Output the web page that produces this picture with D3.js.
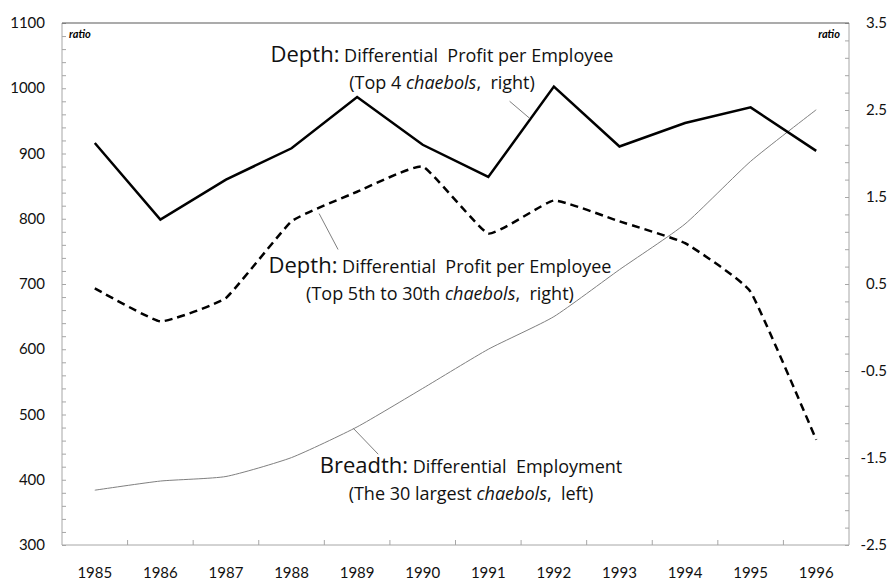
<!DOCTYPE html>
<html>
<head>
<meta charset="utf-8">
<script src="https://cdn.jsdelivr.net/npm/d3@7"></script>
<style>
  body { margin: 0; background: #fff; }
  svg { display: block; font-family: Lato, "Open Sans", sans-serif; }
  .tick-label { font-size: 15px; fill: #111; }
  .note { fill: #111; font-family: "Open Sans", sans-serif; white-space: pre; }
</style>
</head>
<body>
<div id="chart"></div>
<script>
const width = 894;
const height = 580;

// 年份 (x 轴类别)
const years = ["1985", "1986", "1987", "1988", "1989", "1990",
               "1991", "1992", "1993", "1994", "1995", "1996"];

// Breadth: differential employment, 30 largest chaebols (left axis)
const breadth = [384, 398, 405, 434, 481, 540, 600, 650, 722, 792, 888, 967];

// Depth: differential profit per employee, top 4 chaebols (right axis)
const depthTop4 = [2.12, 1.24, 1.70, 2.06, 2.65, 2.10, 1.73, 2.77, 2.08, 2.35, 2.53, 2.03];

// Depth: differential profit per employee, top 5th to 30th (right axis)
const depthTop5to30 = [0.45, 0.07, 0.34, 1.22, 1.56, 1.85, 1.08, 1.46, 1.22, 0.97, 0.41, -1.29];

// 轴刻度
const leftTicks = [300, 400, 500, 600, 700, 800, 900, 1000, 1100];
const rightTicks = [-2.5, -1.5, -0.5, 0.5, 1.5, 2.5, 3.5];

const margin = { top: 23, right: 45, bottom: 35, left: 62 };
const x0 = margin.left, x1 = width - margin.right;
const y0 = height - margin.bottom, y1 = margin.top;

const svg = d3.select("#chart").append("svg")
    .attr("width", width)
    .attr("height", height);

const x = d3.scaleBand().domain(years).range([x0, x1]);
const xc = d => x(d) + x.bandwidth() / 2;
// 小数索引 -> 像素 (用于标注引线)
const xi = i => x0 + (i + 0.5) * x.bandwidth();

const yL = d3.scaleLinear().domain([300, 1100]).range([y0, y1]);
const yR = d3.scaleLinear().domain([-2.5, 3.5]).range([y0, y1]);

// --- 坐标轴 ---
const axisColor = "#a6a6a6";

// 左轴
const left = svg.append("g").attr("transform", `translate(${x0},0)`)
    .call(d3.axisLeft(yL).tickValues(d3.range(300, 1101, 20)).tickSize(-4).tickFormat(""));
left.select(".domain").remove();
left.selectAll(".tick line").attr("stroke", axisColor);
svg.append("line").attr("x1", x0).attr("x2", x0).attr("y1", y1).attr("y2", y0)
    .attr("stroke", axisColor);

svg.append("g").selectAll("text").data(leftTicks).join("text")
    .attr("class", "tick-label")
    .attr("x", x0 - 17).attr("y", d => yL(d) + 5)
    .attr("text-anchor", "end")
    .text(d => d);

// 右轴
const right = svg.append("g").attr("transform", `translate(${x1},0)`)
    .call(d3.axisRight(yR).tickValues(d3.range(-25, 36, 2).map(v => v / 10)).tickSize(-4).tickFormat(""));
right.select(".domain").remove();
right.selectAll(".tick line").attr("stroke", axisColor);
svg.append("line").attr("x1", x1).attr("x2", x1).attr("y1", y1).attr("y2", y0)
    .attr("stroke", axisColor);

svg.append("g").selectAll("text").data(rightTicks).join("text")
    .attr("class", "tick-label")
    .attr("x", x1 + 38).attr("y", d => yR(d) + 5)
    .attr("text-anchor", "end")
    .text(d => d3.format(".1f")(d).replace("\u2212", "-"));

// 下轴
svg.append("line").attr("x1", x0).attr("x2", x1).attr("y1", y0).attr("y2", y0)
    .attr("stroke", axisColor);
svg.append("g").selectAll("line").data(years.slice(1)).join("line")
    .attr("x1", d => x(d)).attr("x2", d => x(d))
    .attr("y1", y0).attr("y2", y0 - 5)
    .attr("stroke", axisColor);
svg.append("g").selectAll("text").data(years).join("text")
    .attr("class", "tick-label")
    .attr("x", d => xc(d)).attr("y", y0 + 33)
    .attr("text-anchor", "middle")
    .text(d => d);

// 顶边
svg.append("line").attr("x1", x0).attr("x2", x1).attr("y1", y1).attr("y2", y1)
    .attr("stroke", "#595959").attr("stroke-width", 1.2);

// "ratio" 单位
svg.append("text").attr("x", x0 + 7).attr("y", y1 + 15)
    .attr("font-size", 11).attr("font-weight", "bold").attr("font-style", "italic")
    .text("ratio");
svg.append("text").attr("x", x1 - 9).attr("y", y1 + 15)
    .attr("text-anchor", "end")
    .attr("font-size", 11).attr("font-weight", "bold").attr("font-style", "italic")
    .text("ratio");

// --- 折线 ---
const lineL = d3.line().x((d, i) => xc(years[i])).y(d => yL(d))
    .curve(d3.curveCardinal.tension(0.45));
const lineR = d3.line().x((d, i) => xc(years[i])).y(d => yR(d));
const lineRSmooth = d3.line().x((d, i) => xc(years[i])).y(d => yR(d))
    .curve(d3.curveCardinal.tension(0.65));

svg.append("path").datum(breadth)
    .attr("d", lineL).attr("fill", "none")
    .attr("stroke", "#7f7f7f").attr("stroke-width", 1);

svg.append("path").datum(depthTop5to30)
    .attr("d", lineRSmooth).attr("fill", "none")
    .attr("stroke", "#000").attr("stroke-width", 2.5)
    .attr("stroke-dasharray", "8,5");

svg.append("path").datum(depthTop4)
    .attr("d", lineR).attr("fill", "none")
    .attr("stroke", "#000").attr("stroke-width", 2.5)
    .attr("stroke-linejoin", "miter");

// --- 标注 ---
// 引线: 线上的点 (索引, 数值, 轴) 和文字端偏移
const leaders = [
    { i: 6.63, v: 2.405, axis: "R", dx: -20, dy: -17 },
    { i: 3.42, v: 1.31, axis: "R", dx: 19, dy: 36 },
    { i: 3.94, v: 479, axis: "L", dx: 25, dy: 26 }
];
svg.append("g").selectAll("line").data(leaders).join("line")
    .attr("x1", d => xi(d.i))
    .attr("y1", d => (d.axis === "R" ? yR : yL)(d.v))
    .attr("x2", d => xi(d.i) + d.dx)
    .attr("y2", d => (d.axis === "R" ? yR : yL)(d.v) + d.dy)
    .attr("stroke", "#7f7f7f").attr("stroke-width", 1);

function note(cx, y, head, rest, line2a, italic, line2b) {
    const t = svg.append("text").attr("class", "note")
        .attr("x", cx).attr("y", y).attr("text-anchor", "middle");
    t.append("tspan").attr("font-size", 22).text(head);
    t.append("tspan").attr("font-size", 18).text(rest);
    const t2 = svg.append("text").attr("class", "note")
        .attr("x", cx).attr("y", y + 27).attr("text-anchor", "middle")
        .attr("font-size", 18);
    t2.append("tspan").text(line2a);
    t2.append("tspan").attr("font-style", "italic").text(italic);
    t2.append("tspan").text(line2b);
}

note(442, 62, "Depth:", " Differential  Profit per Employee", "(Top 4 ", "chaebols", ",  right)");
note(440, 273, "Depth:", " Differential  Profit per Employee", "(Top 5th to 30th ", "chaebols", ",  right)");
note(471, 473, "Breadth:", " Differential  Employment", "(The 30 largest ", "chaebols", ",  left)");
</script>
</body>
</html>
